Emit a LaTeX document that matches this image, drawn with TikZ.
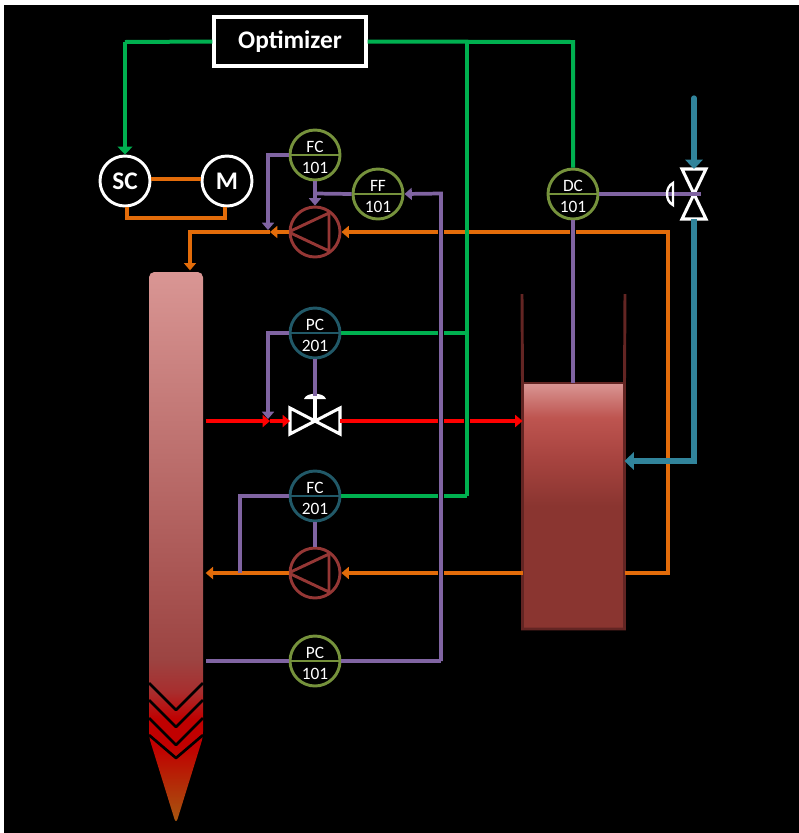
\documentclass[tikz,border=0pt]{standalone}
\usepackage{fontspec}
\setmainfont{Carlito}
\usetikzlibrary{arrows.meta,calc}
\definecolor{cgreen}{HTML}{00B050}
\definecolor{cpurple}{HTML}{8064A2}
\definecolor{corange}{HTML}{E36C0A}
\definecolor{cblue}{HTML}{31849B}
\definecolor{colive}{HTML}{76923C}
\definecolor{cteal}{HTML}{215968}
\definecolor{cbrown}{HTML}{953735}
\definecolor{cdark}{HTML}{632523}
\definecolor{sa}{HTML}{A65A10}
\definecolor{sc}{HTML}{C00000}
\definecolor{sd}{HTML}{A82E2E}
\definecolor{se}{HTML}{9C4442}
\definecolor{sf}{HTML}{D99694}
\definecolor{sg}{HTML}{8A3530}
\definecolor{sh}{HTML}{A84440}
\definecolor{si}{HTML}{BE5550}
\pgfdeclareverticalshading{colshade}{100bp}{
 color(0bp)=(sa);
 color(25bp)=(sa);
 color(32bp)=(sc);
 color(34.5bp)=(sc);
 color(37bp)=(sd);
 color(40bp)=(se);
 color(75bp)=(sf);
 color(100bp)=(sf)}
\pgfdeclareverticalshading{tankshade}{100bp}{
 color(0bp)=(sg);
 color(25bp)=(sg);
 color(50bp)=(sg);
 color(60bp)=(sh);
 color(68bp)=(si);
 color(75bp)=(sf);
 color(100bp)=(sf)}
\tikzset{
 x=0.75pt,y=-0.75pt,
 inst/.style={circle,draw=#1,line width=2.2pt,minimum size=37.5pt,inner sep=0pt},
 pumpc/.style={circle,draw=cbrown,line width=2.2pt,minimum size=37.5pt,inner sep=0pt},
 drive/.style={circle,draw=white,line width=2.2pt,minimum size=37.5pt,inner sep=0pt,text=white,font=\fontsize{19}{19}\selectfont\bfseries},
 toptext/.style={text=white,inner sep=0pt,font=\fontsize{13}{13}\selectfont},
 glin/.style={draw=cgreen,line width=3pt},
 plin/.style={draw=cpurple,line width=2.8pt},
 plinthin/.style={draw=cpurple,line width=2.5pt},
 olin/.style={draw=corange,line width=2.4pt},
 olinb/.style={draw=corange,line width=2.5pt},
 rlin/.style={draw=red,line width=3pt},
 blin/.style={draw=cblue,line width=4pt},
 halo/.style={draw=black,line width=4.6pt},
 tipg/.style={-{Triangle[length=6pt,width=11pt]}},
 tipb/.style={-{Triangle[length=7pt,width=13pt]}},
 tips/.style={-{Triangle[length=5.5pt,width=9pt]}},
 box/.style={draw=white,line width=2.6pt,fill=black,text=white,minimum width=114pt,minimum height=37pt,inner sep=0pt,font=\fontsize{19}{19}\selectfont\bfseries},
 valvebox/.style={inner sep=0pt,outer sep=0pt},
 valveline/.style={draw=white,line width=2.3pt,line join=miter},
 endpt/.style={inner sep=0pt,outer sep=0pt},
}
\newcommand{\instr}[5]{%
 \node[inst=#3] (#1) at (#2) {};
 \draw[#3,line width=2.2pt] (#1.west) -- (#1.east);
 \node[toptext] (#1t) at ($(#1)+(0,-8)$) {#4};
 \node[toptext] (#1b) at ($(#1)+(0,13)$) {#5};}
\newcommand{\pumpshape}[2]{%
 \node[pumpc] (#1) at (#2) {};
 \draw[cbrown,line width=2.2pt,line join=round] (#1.west) -- ($(#1)+(14,-19)$) -- ($(#1)+(14,19)$) -- cycle;}
\begin{document}
\begin{tikzpicture}
\useasboundingbox (0,0) rectangle (799,833);
\fill[white] (0,0) rectangle (799,833);
\fill[black] (4,5) rectangle (799,833);

% vessels
\coordinate (colTL) at (149,272);
\coordinate (colTR) at (203,272);
\coordinate (colBR) at (203,737);
\coordinate (colTip) at (176,824);
\coordinate (colBL) at (149,737);
\shade[shading=colshade,rounded corners=4pt] (colTL) -- (colTR) -- (colBR) -- (colTip) -- (colBL) -- cycle;
\foreach \a/\b in {683/710,700/727,718/745,735/758}
 \draw[black,line width=2pt,line join=round] (149,\a) -- (176,\b) -- (203,\a);
\node[endpt] (colR) at (205,421) {};
\node[endpt] (colP) at (205,661) {};
\node[endpt] (colF) at (205,573) {};
\node[endpt] (colT) at (190,271) {};

\node[inner sep=0pt,minimum width=76.5pt,minimum height=184.5pt,outer sep=0pt] (tank) at (573.5,506) {};
\shade[shading=tankshade] (tank.north west) rectangle (tank.south east);
\draw[cdark,line width=2.2pt] (522,294) -- (tank.north west) -- (tank.south west) -- (tank.south east) -- (tank.north east) -- (625,294);
\draw[cdark,line width=2.2pt] (tank.north west) -- (tank.north east);

% instruments, pumps, drive
\node[box] (opt) at (290,41.5) {Optimizer};
\node[drive] (sc) at (125,181) {SC};
\node[drive] (mot) at (227,181) {M};
\instr{fc1}{315,155}{colive}{FC}{101}
\instr{ff1}{378,194}{colive}{FF}{101}
\instr{dc1}{573,194}{colive}{DC}{101}
\instr{pc2}{315,333}{cteal}{PC}{201}
\instr{fc2}{315,496}{cteal}{FC}{201}
\instr{pc1}{315,661}{colive}{PC}{101}
\pumpshape{p1}{315,232}
\pumpshape{p2}{315,573}

% valves
\node[valvebox,minimum width=37.5pt,minimum height=19.5pt] (v2) at (315,421) {};
\draw[valveline] (v2.north west) -- (v2.south east) -- (v2.north east) -- (v2.south west) -- cycle;
\node[valvebox,minimum width=18pt,minimum height=37.5pt] (v1) at (694,194) {};
\draw[valveline] (v1.north west) -- (v1.south east) -- (v1.south west) -- (v1.north east) -- cycle;

% junctions
\coordinate (gL) at (125,42);
\coordinate (gR) at (467,42);
\coordinate (gD) at (573,42);
\coordinate (g2) at (467,333);
\coordinate (g3) at (467,496);
\coordinate (pA) at (268,155);
\coordinate (pB) at (268,230);
\coordinate (pC) at (268,333);
\coordinate (pD) at (268,419);
\coordinate (pE) at (240,496);
\coordinate (pF) at (240,573);
\coordinate (pG) at (315,193.5);
\coordinate (pH) at (441,193.5);
\coordinate (pI) at (441,661);
\coordinate (rA) at (270,421);
\coordinate (oA) at (190,232);
\coordinate (oB) at (270,232);
\coordinate (oC) at (668,232);
\coordinate (oD) at (668,573);
\coordinate (bA) at (694,98);
\coordinate (bB) at (694,461);
\coordinate (aE) at (701,194);

% orange process lines
\draw[olinb,tips] (oB) -- (oA) -- (colT);
\draw[olinb,tips] (p1.west) -- (oB);
\draw[olinb,tips] (tank.east |- oD) -- (oD) -- (oC) -- (p1.east);
\draw[olin,tips] (p2.west) -- (colF);
\draw[olin,tips] (tank.west |- p2) -- (p2.east);
\draw[olinb] ($(sc.east)+(0,-2)$) -- ($(mot.west)+(0,-2)$);
\draw[olinb] ($(sc.south)+(2,0)$) -- (127,218) -- (225,218) -- ($(mot.south)+(-2,0)$);
% red
\draw[rlin,tips] (colR) -- (rA);
\draw[rlin,tips] (rA) -- (v2.west);
\draw[rlin,tips] (v2.east) -- (tank.west |- v2);
% crossing lines
\draw[halo] ($(g2 |- rA)+(0,-4)$) -- ($(g2 |- rA)+(0,4)$);
\draw[glin] (opt.west) -- (gL);
\draw[glin,tipg] (gL) -- (sc.north);
\draw[glin] (opt.east) -- (gD) -- (dc1.north);
\draw[glin] (gR) -- (g3);
\draw[glin] (fc2.east) -- (g3);
\draw[glin] (pc2.east) -- (g2);
\draw[halo] ($(dc1 |- oC)+(0,-4)$) -- ($(dc1 |- oC)+(0,4)$);
\draw[halo] ($(pH |- oC)+(0,-4)$) -- ($(pH |- oC)+(0,4)$);
\draw[halo] ($(pH |- g2)+(0,-4)$) -- ($(pH |- g2)+(0,4)$);
\draw[halo] ($(pH |- g3)+(0,-4)$) -- ($(pH |- g3)+(0,4)$);
\draw[halo] ($(pH |- rA)+(0,-4)$) -- ($(pH |- rA)+(0,4)$);
\draw[halo] ($(pH |- p2)+(0,-4)$) -- ($(pH |- p2)+(0,4)$);
\draw[plin,tips] (pI) -- (pH) -- (ff1.east);
\draw[plinthin] (pc1.east) -- (pI);
\draw[plinthin] (pc1.west) -- (colP);
\draw[plin] (ff1.west) -- (pG);
\draw[plin,tips] (fc1.south) -- (p1.north);
\draw[plinthin,tips] (fc1.west) -- (pA) -- (pB);
\draw[plinthin,tips] (pc2.west) -- (pC) -- (pD);
\draw[plinthin] (fc2.west) -- (pE) -- (pF);
\draw[plinthin] (fc2.south) -- (p2.north);
\draw[plin] (dc1.south) -- (tank.north -| dc1);
% blue
\draw[blin,line cap=round,tipb] (bA) -- (v1.north);
\draw[blin,tipb] (v1.south) -- (bB) -- (tank.east |- bB);
\draw[plin] (dc1.east) -- (aE);
% actuators
\draw[white,line width=1.8pt] (673,183) .. controls (665,187) and (665,201) .. (673,205) -- cycle;
\fill[white] (304,399) .. controls (306,392) and (324,392) .. (326,399) -- cycle;
\draw[white,line width=2.3pt] (315,399) -- (v2.center);
\draw[plin] (pc2.south) -- (315,396);
\end{tikzpicture}
\end{document}
